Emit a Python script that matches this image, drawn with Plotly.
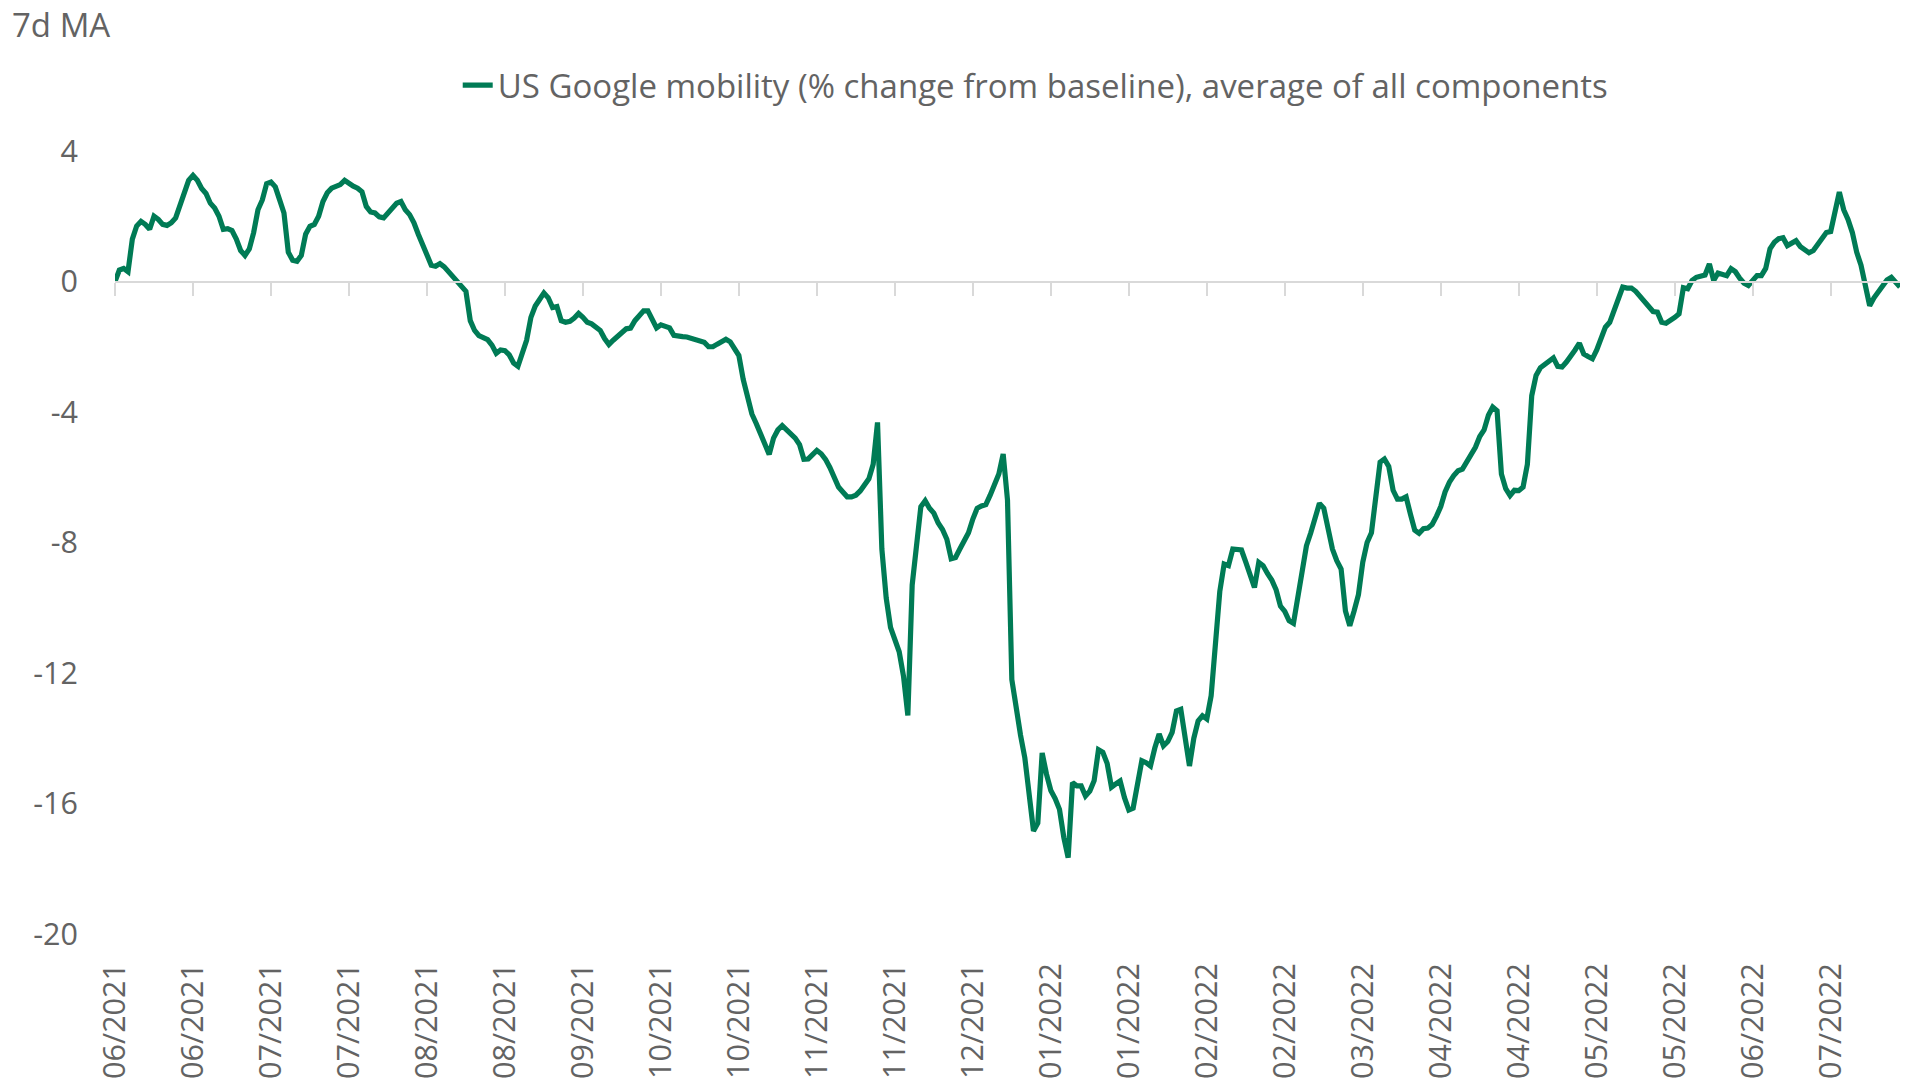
import pandas as pd
import plotly.graph_objects as go

# 7-day moving average, daily from 01/06/2021
start_date = "2021-06-01"
mobility = [
    0.0, 0.35, 0.4, 0.3, 1.3, 1.7, 1.84, 1.75, 1.6, 2.0,
    1.9, 1.75, 1.72, 1.8, 1.95, 2.33, 2.65, 3.1, 3.25, 3.1,
    2.85, 2.7, 2.4, 2.25, 2.0, 1.6, 1.62, 1.56, 1.3, 0.95,
    0.8, 1.0, 1.5, 2.2, 2.5, 3.0, 3.05, 2.9, 2.5, 2.1,
    0.9, 0.65, 0.62, 0.8, 1.45, 1.69, 1.75, 2.0, 2.45, 2.72,
    2.86, 2.9, 2.97, 3.1, 3.0, 2.92, 2.86, 2.75, 2.3, 2.13,
    2.1, 1.98, 1.95, 2.1, 2.25, 2.4, 2.45, 2.2, 2.05, 1.8,
    1.45, 1.1, 0.75, 0.5, 0.47, 0.55, 0.45, 0.3, 0.15, 0.0,
    -0.12, -0.3, -1.2, -1.5, -1.66, -1.72, -1.78, -1.95, -2.2, -2.1,
    -2.12, -2.25, -2.5, -2.6, -2.2, -1.8, -1.1, -0.75, -0.55, -0.35,
    -0.5, -0.8, -0.77, -1.2, -1.25, -1.22, -1.12, -0.98, -1.1, -1.25,
    -1.3, -1.38, -1.5, -1.75, -1.93, -1.8, -1.67, -1.55, -1.45, -1.43,
    -1.2, -1.05, -0.9, -0.9, -1.15, -1.42, -1.33, -1.38, -1.42, -1.65,
    -1.69, -1.69, -1.7, -1.73, -1.77, -1.82, -1.86, -2.0, -2.0, -1.92,
    -1.85, -1.77, -1.85, -2.05, -2.27, -3.0, -3.6, -4.06, -4.35, -4.65,
    -5.0, -5.3, -4.8, -4.55, -4.42, -4.55, -4.7, -4.8, -5.0, -5.45,
    -5.44, -5.3, -5.18, -5.28, -5.45, -5.7, -6.05, -6.3, -6.45, -6.6,
    -6.6, -6.55, -6.42, -6.25, -6.05, -5.6, -4.32, -8.2, -9.7, -10.6,
    -11.0, -11.35, -12.1, -13.3, -9.3, -7.9, -6.9, -6.72, -6.95, -7.1,
    -7.4, -7.6, -7.9, -8.5, -8.46, -8.2, -7.95, -7.7, -7.28, -6.95,
    -6.88, -6.84, -6.55, -6.25, -5.9, -5.29, -6.7, -12.2, -13.1, -13.9,
    -14.6, -15.9, -16.84, -16.6, -14.45, -15.1, -15.6, -15.85, -16.18, -17.04,
    -17.66, -15.36, -15.46, -15.46, -15.77, -15.62, -15.3, -14.35, -14.43, -14.77,
    -15.5, -15.4, -15.31, -15.82, -16.2, -16.14, -15.4, -14.69, -14.75, -14.85,
    -14.3, -13.87, -14.23, -14.1, -13.82, -13.16, -13.11, -14.0, -14.85, -14.0,
    -13.47, -13.31, -13.41, -12.7, -11.0, -9.5, -8.66, -8.71, -8.2, -8.22,
    -8.23, -8.6, -9.0, -9.38, -8.61, -8.71, -8.95, -9.15, -9.45, -9.95,
    -10.11, -10.4, -10.48, -9.68, -8.9, -8.1, -7.7, -7.3, -6.8, -6.95,
    -7.6, -8.2, -8.56, -8.81, -10.1, -10.55, -10.1, -9.6, -8.6, -8.0,
    -7.7, -6.5, -5.54, -5.44, -5.67, -6.4, -6.67, -6.67, -6.6, -7.13,
    -7.62, -7.72, -7.58, -7.56, -7.45, -7.2, -6.9, -6.45, -6.15, -5.95,
    -5.8, -5.75, -5.55, -5.3, -5.08, -4.75, -4.55, -4.1, -3.85, -3.96,
    -5.9, -6.35, -6.56, -6.4, -6.41, -6.3, -5.6, -3.5, -2.88, -2.64,
    -2.55, -2.45, -2.34, -2.6, -2.62, -2.47, -2.25, -2.1, -1.89, -2.22,
    -2.3, -2.37, -2.1, -1.7, -1.4, -1.25, -0.9, -0.5, -0.17, -0.2,
    -0.2, -0.3, -0.45, -0.6, -0.79, -0.92, -0.94, -1.25, -1.28, -1.2,
    -1.1, -0.99, -0.19, -0.22, 0.03, 0.13, 0.15, 0.2, 0.54, 0.03,
    0.26, 0.2, 0.18, 0.39, 0.3, 0.1, -0.05, -0.12, 0.03, 0.18,
    0.18, 0.4, 1.0, 1.2, 1.31, 1.34, 1.1, 1.2, 1.25, 1.07,
    0.95, 0.88, 0.95, 1.15, 1.3, 1.5, 1.53, 2.2, 2.74, 2.2,
    1.9, 1.5, 0.9, 0.5, -0.2, -0.74, -0.5, -0.3, -0.15, 0.05,
    0.13, -0.02, -0.17,
]

tick_labels = [
    "06/2021", "06/2021", "07/2021", "07/2021", "08/2021", "08/2021",
    "09/2021", "10/2021", "10/2021", "11/2021", "11/2021", "12/2021",
    "01/2022", "01/2022", "02/2022", "02/2022", "03/2022", "04/2022",
    "04/2022", "05/2022", "05/2022", "06/2022", "07/2022",
]
y_ticks = [-20, -16, -12, -8, -4, 0, 4]
y_tick_labels = ["-20", "-16", "-12", "-8", "-4", "0", "4"]

dates = pd.date_range(start_date, periods=len(mobility), freq="D")
tick_dates = pd.date_range(start_date, periods=len(tick_labels), freq="18D")

GREEN = "#007B55"
GREY = "#636363"
FONT = "Open Sans"

fig = go.Figure()
fig.add_trace(go.Scatter(
    x=dates, y=mobility, mode="lines",
    name="US Google mobility (% change from baseline), average of all components",
    line=dict(color=GREEN, width=5.2),
))
# dummy trace so the zero-crossing axis gets drawn
fig.add_trace(go.Scatter(
    x=[dates[0], dates[-1]], y=[None, None], xaxis="x2",
    showlegend=False, hoverinfo="skip",
))

y_min, y_max = -20, 4
fig.update_layout(
    width=1907, height=1090,
    margin=dict(l=115, r=7, t=151, b=156),
    plot_bgcolor="white", paper_bgcolor="white",
    font=dict(family=FONT, size=30.5, color=GREY),
    showlegend=True,
    legend=dict(
        orientation="h", x=0.192, xanchor="left", y=1.084, yanchor="middle",
        font=dict(size=33, color=GREY), bgcolor="rgba(0,0,0,0)",
    ),
    xaxis=dict(
        range=[dates[0], dates[-1]],
        tickvals=tick_dates, ticktext=tick_labels, tickangle=-90,
        showgrid=False, showline=False, ticks="", zeroline=False,
        ticklabelstandoff=22,
    ),
    xaxis2=dict(
        overlaying="x", matches="x", anchor="free",
        position=(0 - y_min) / (y_max - y_min),
        tickvals=tick_dates, showticklabels=False,
        showline=True, linecolor="#D9D9D9", linewidth=2,
        ticks="outside", ticklen=13, tickwidth=2, tickcolor="#D9D9D9",
        showgrid=False, zeroline=False,
    ),
    yaxis=dict(
        range=[y_min, y_max], tickvals=y_ticks, ticktext=y_tick_labels,
        showgrid=False, zeroline=False, showline=False,
        ticklabelstandoff=36,
    ),
    annotations=[dict(
        text="7d MA", xref="paper", yref="paper", x=-0.0588, y=1.162,
        xanchor="left", yanchor="middle", showarrow=False,
        font=dict(size=33, color=GREY),
    )],
)

fig.write_html("out.html", config={"displayModeBar": False},
               post_script="document.body.style.margin='0';")
